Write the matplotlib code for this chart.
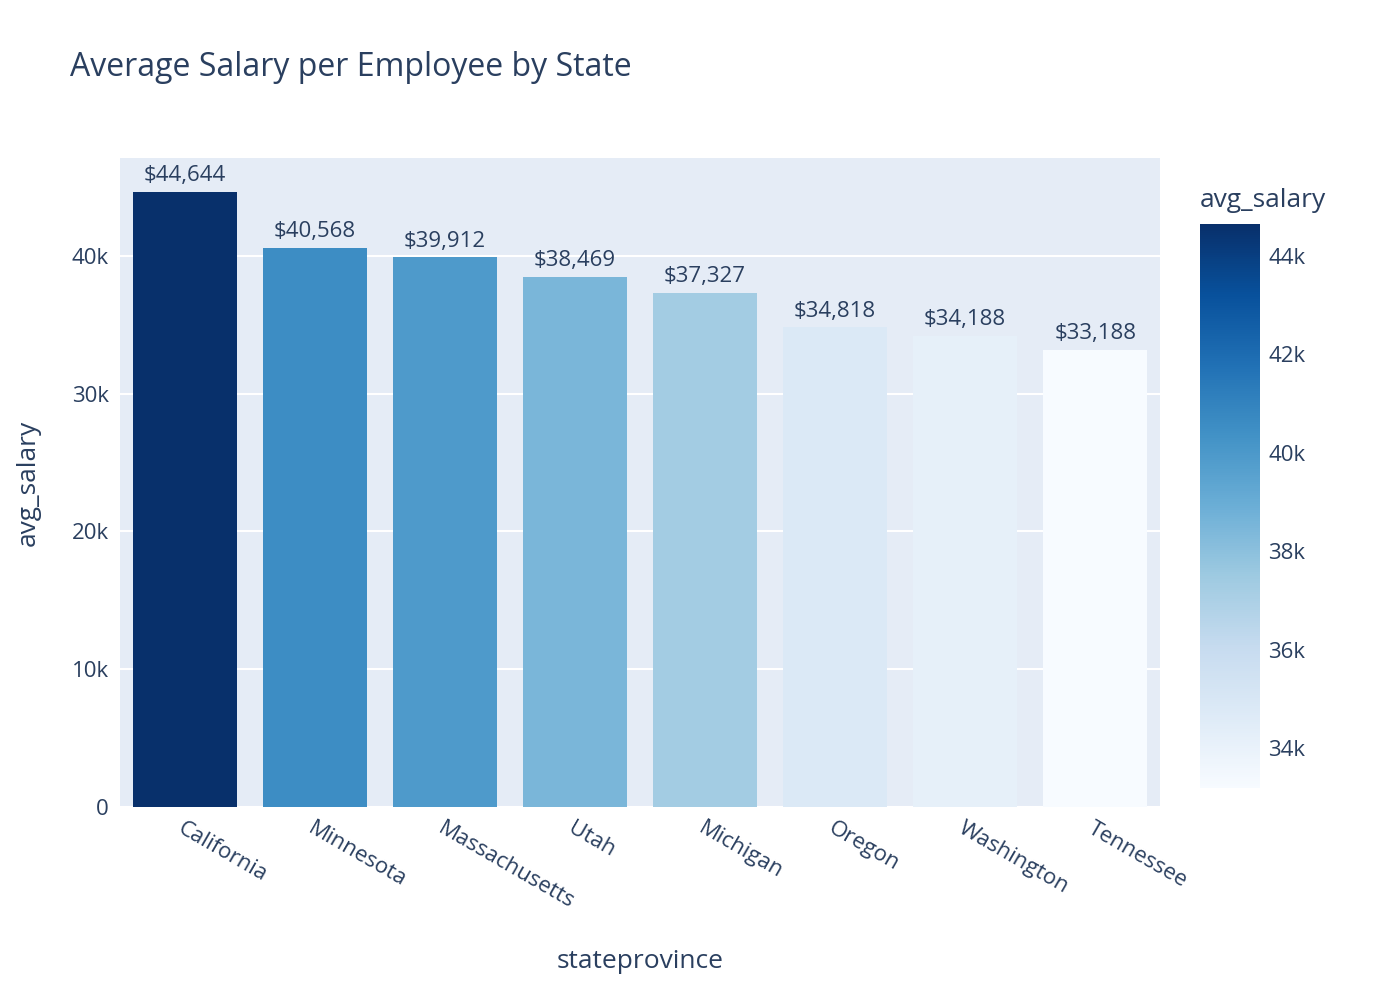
import matplotlib.pyplot as plt
import matplotlib as mpl
import numpy as np

states = ["California", "Minnesota", "Massachusetts", "Utah", "Michigan", "Oregon", "Washington", "Tennessee"]
avg_salary = [44644, 40568, 39912, 38469, 37327, 34818, 34188, 33188]

TXT = "#2a3f5f"
BG = "#E5ECF6"
plt.rcParams['font.family'] = ['Open Sans', 'DejaVu Sans']

fig = plt.figure(figsize=(14, 10), dpi=100)
ax = fig.add_axes([0.0857, 0.193, 0.743, 0.649])
cax = fig.add_axes([0.857, 0.212, 0.043, 0.564])

norm = mpl.colors.Normalize(vmin=min(avg_salary), vmax=max(avg_salary))
cmap = plt.get_cmap('Blues')
x = np.arange(len(states))
ax.bar(x, avg_salary, width=0.8, color=cmap(norm(avg_salary)), zorder=2)
for xi, v in zip(x, avg_salary):
    ax.text(xi, v + 400, f"${v:,}", ha='center', va='bottom', fontsize=16, color=TXT)

ax.set_facecolor(BG)
ax.set_xlim(-0.5, len(states) - 0.5)
ax.set_ylim(0, 47100)
ax.set_yticks([0, 10000, 20000, 30000, 40000])
ax.set_yticklabels(["0", "10k", "20k", "30k", "40k"])
ax.grid(axis='y', color='white', linewidth=1.5, zorder=0)
ax.set_axisbelow(True)
for s in ax.spines.values():
    s.set_visible(False)
ax.tick_params(length=0, labelsize=16, colors=TXT, pad=8)
ax.set_xticks(x)
ax.set_xticklabels(states, rotation=-30, ha='left', rotation_mode='anchor')
ax.set_xlabel("stateprovince", fontsize=19, color=TXT, labelpad=26)
ax.set_ylabel("avg_salary", fontsize=19, color=TXT, labelpad=22)
fig.text(0.05, 0.932, "Average Salary per Employee by State", fontsize=23, color=TXT, va='center')

cb = fig.colorbar(mpl.cm.ScalarMappable(norm=norm, cmap=cmap), cax=cax)
cb.outline.set_visible(False)
cb.set_ticks([34000, 36000, 38000, 40000, 42000, 44000])
cb.set_ticklabels(["34k", "36k", "38k", "40k", "42k", "44k"])
cax.tick_params(length=0, labelsize=16, colors=TXT, pad=6)
cax.set_title("avg_salary", fontsize=19, color=TXT, loc='left', pad=12)

fig.savefig("out.png", dpi=100)
